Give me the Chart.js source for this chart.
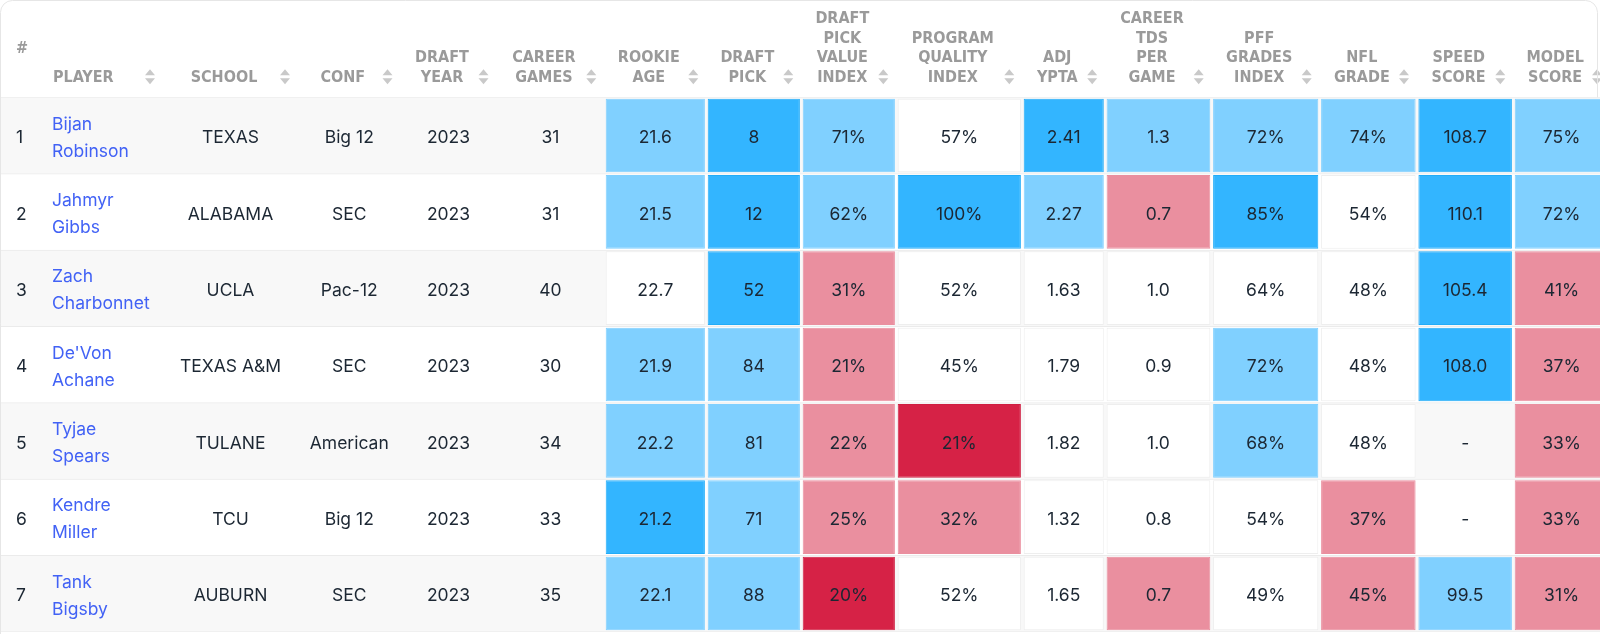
<!DOCTYPE html>
<html lang="en">
<head>
<meta charset="UTF-8">
<title>RB Prospect Table</title>
<script src="https://cdn.jsdelivr.net/npm/chart.js@4.4.0/dist/chart.umd.min.js"></script>
<style>
  html, body { margin: 0; padding: 0; background: #fff; }
  #wrap { width: 1600px; height: 634px; }
</style>
</head>
<body>
<div id="wrap"><canvas id="table-chart" width="1600" height="634"></canvas></div>

<script>

// ---- data ----
var ranks = ['1', '2', '3', '4', '5', '6', '7'];
var players = ['Bijan Robinson', 'Jahmyr Gibbs', 'Zach Charbonnet', "De'Von Achane", 'Tyjae Spears', 'Kendre Miller', 'Tank Bigsby'];
var schools = ['TEXAS', 'ALABAMA', 'UCLA', 'TEXAS A&M', 'TULANE', 'TCU', 'AUBURN'];
var confs = ['Big 12', 'SEC', 'Pac-12', 'SEC', 'American', 'Big 12', 'SEC'];
var draftYears = [2023, 2023, 2023, 2023, 2023, 2023, 2023];
var careerGames = [31, 31, 40, 30, 34, 33, 35];

var rookieAge = [21.6, 21.5, 22.7, 21.9, 22.2, 21.2, 22.1];
var draftPick = [8, 12, 52, 84, 81, 71, 88];
var draftPickValueIndex = [71, 62, 31, 21, 22, 25, 20];
var programQualityIndex = [57, 100, 52, 45, 21, 32, 52];
var adjYpta = [2.41, 2.27, 1.63, 1.79, 1.82, 1.32, 1.65];
var careerTdsPerGame = [1.3, 0.7, 1.0, 0.9, 1.0, 0.8, 0.7];
var pffGradesIndex = [72, 85, 64, 72, 68, 54, 49];
var nflGrade = [74, 54, 48, 48, 48, 37, 45];
var speedScore = [108.7, 110.1, 105.4, 108.0, null, null, 99.5];
var modelScore = [75, 72, 41, 37, 33, 33, 31];

// rating tier of each heat cell: 2 strong, 1 good, 0 neutral, -1 weak, -2 very weak, null = no value
var tiers = [
  [1, 2, 1, 0, 2, 1, 1, 1, 2, 1],
  [1, 2, 1, 2, 1, -1, 2, 0, 2, 1],
  [0, 2, -1, 0, 0, 0, 0, 0, 2, -1],
  [1, 1, -1, 0, 0, 0, 1, 0, 2, -1],
  [1, 1, -1, -2, 0, 0, 1, 0, null, -1],
  [2, 1, -1, -1, 0, 0, 0, -1, null, -1],
  [1, 1, -2, 0, 0, -1, 0, -1, 1, -1]
];

var headers = [
  ['#'], ['PLAYER'], ['SCHOOL'], ['CONF'], ['DRAFT', 'YEAR'], ['CAREER', 'GAMES'],
  ['ROOKIE', 'AGE'], ['DRAFT', 'PICK'], ['DRAFT', 'PICK', 'VALUE', 'INDEX'],
  ['PROGRAM', 'QUALITY', 'INDEX'], ['ADJ', 'YPTA'], ['CAREER', 'TDS', 'PER', 'GAME'],
  ['PFF', 'GRADES', 'INDEX'], ['NFL', 'GRADE'], ['SPEED', 'SCORE'], ['MODEL', 'SCORE']
];

// ---- layout ----
var colEdges = [0, 40, 163, 298, 400.5, 496.5, 604.3, 706.3, 801.3, 896.3, 1022.3, 1105.2, 1211.7, 1319.7, 1417, 1513.3, 1610];
var HEAT = 6;

var tierFill = { '2': '#33b5ff', '1': '#80d0ff', '0': '#ffffff', '-1': '#ea8f9f', '-2': '#d62246' };
var tierLine = { '2': '#22acf8', '1': '#80d0ff', '0': '#eeeeee', '-1': '#ea8f9f', '-2': '#cf1f42' };

function pct(v) { return v + '%'; }
var heatCols = [
  rookieAge.map(function (v) { return v.toFixed(1); }),
  draftPick.map(String),
  draftPickValueIndex.map(pct),
  programQualityIndex.map(pct),
  adjYpta.map(function (v) { return v.toFixed(2); }),
  careerTdsPerGame.map(function (v) { return v.toFixed(1); }),
  pffGradesIndex.map(pct),
  nflGrade.map(pct),
  speedScore.map(function (v) { return v == null ? '-' : v.toFixed(1); }),
  modelScore.map(pct)
];
var plainCols = [ranks, players, schools, confs, draftYears.map(String), careerGames.map(String)];

var datasets = [];
heatCols.forEach(function (col, k) {
  datasets.push({
    label: headers[HEAT + k].join(' '),
    data: ranks.map(function (r, i) {
      return tiers[i][k] == null ? null : [colEdges[HEAT + k] + 1.4, colEdges[HEAT + k + 1] - 1.4];
    }),
    backgroundColor: function (c) { return tierFill[tiers[c.dataIndex][k]]; },
    borderColor: function (c) { return tierLine[tiers[c.dataIndex][k]]; },
    borderWidth: 1,
    borderSkipped: false,
    grouped: false,
    categoryPercentage: 0.965,
    barPercentage: 1,
    order: 1
  });
});
// row stripes, drawn first
datasets.push({
  label: 'rows',
  data: ranks.map(function () { return [0, 1600]; }),
  backgroundColor: function (c) { return c.dataIndex % 2 === 0 ? '#f8f8f8' : '#ffffff'; },
  borderColor: '#ebebeb',
  borderWidth: function (c) {
    return { top: 1, right: 0, left: 0, bottom: c.dataIndex === ranks.length - 1 ? 1 : 0 };
  },
  borderSkipped: false,
  grouped: false,
  categoryPercentage: 1,
  barPercentage: 1,
  order: 50
});

function arrows(ctx, ax, ay) {
  ctx.fillStyle = '#c9c9c9';
  ctx.beginPath();
  ctx.moveTo(ax - 5, ay - 1.5); ctx.lineTo(ax + 5, ay - 1.5); ctx.lineTo(ax, ay - 7.5); ctx.closePath();
  ctx.moveTo(ax - 5, ay + 1.5); ctx.lineTo(ax + 5, ay + 1.5); ctx.lineTo(ax, ay + 7.5); ctx.closePath();
  ctx.fill();
}

var tablePlugin = {
  id: 'tableText',
  afterDraw: function (chart) {
    var ctx = chart.ctx, xs = chart.scales.x, ys = chart.scales.y;
    var top = chart.chartArea.top;
    ctx.save();
    ctx.textBaseline = 'middle';

    // body text
    ranks.forEach(function (r, i) {
      var cy = ys.getPixelForValue(i) + 2.5;
      ctx.font = '17.5px Inter, "Noto Sans", sans-serif';
      ctx.fillStyle = '#1c2733';
      ctx.textAlign = 'left';
      ctx.fillText(ranks[i], xs.getPixelForValue(16), cy);

      var name = players[i], sp = name.indexOf(' ');
      ctx.fillStyle = '#4262f5';
      ctx.fillText(name.slice(0, sp), xs.getPixelForValue(52), cy - 13.5);
      ctx.fillText(name.slice(sp + 1), xs.getPixelForValue(52), cy + 13.5);

      ctx.fillStyle = '#1c2733';
      ctx.textAlign = 'center';
      for (var c = 2; c < colEdges.length - 1; c++) {
        var txt = c < HEAT ? plainCols[c][i] : heatCols[c - HEAT][i];
        var cx = (colEdges[c] + colEdges[c + 1]) / 2;
        ctx.fillText(txt, xs.getPixelForValue(cx), cy);
      }
    });

    // header
    ctx.font = 'bold 16px "DejaVu Sans Condensed", "Liberation Sans", Arial, sans-serif';
    ctx.fillStyle = '#9a9a9a';
    var lastY = top - 19.5;
    ctx.textAlign = 'left';
    ctx.fillText('#', xs.getPixelForValue(16), top - 48);
    for (var h = 1; h < headers.length; h++) {
      var ax = xs.getPixelForValue(colEdges[h + 1] - 13);
      var lines = headers[h];
      ctx.fillStyle = '#9a9a9a';
      for (var l = 0; l < lines.length; l++) {
        var ly = lastY - (lines.length - 1 - l) * 19.7;
        if (h === 1) {
          ctx.textAlign = 'left';
          ctx.fillText(lines[l], xs.getPixelForValue(53), ly);
        } else {
          ctx.textAlign = 'center';
          ctx.fillText(lines[l], (xs.getPixelForValue(colEdges[h]) + ax) / 2, ly);
        }
      }
      arrows(ctx, ax, lastY - 1);
    }

    // card outline
    ctx.strokeStyle = '#e6e6e6';
    ctx.lineWidth = 1;
    ctx.beginPath();
    ctx.moveTo(0.5, chart.height);
    ctx.lineTo(0.5, 12.5);
    ctx.arcTo(0.5, 0.5, 12.5, 0.5, 12);
    ctx.lineTo(1585.5, 0.5);
    ctx.arcTo(1597.5, 0.5, 1597.5, 12.5, 12);
    ctx.lineTo(1597.5, top);
    ctx.stroke();
    ctx.restore();
  }
};

var table_ctx = document.getElementById('table-chart').getContext('2d');

var table_chart = new Chart(table_ctx, {
  type: 'bar',
  data: {
    labels: ranks,
    datasets: datasets
  },
  options: {
    indexAxis: 'y',
    responsive: false,
    maintainAspectRatio: false,
    animation: false,
    events: [],
    layout: { padding: { top: 97.3, bottom: 2.3, left: 0, right: 0 } },
    scales: {
      x: { type: 'linear', min: 0, max: 1600, display: false },
      y: { type: 'category', display: false }
    },
    plugins: {
      legend: { display: false },
      tooltip: { enabled: false }
    }
  },
  plugins: [tablePlugin]
});

</script>
</body>
</html>
